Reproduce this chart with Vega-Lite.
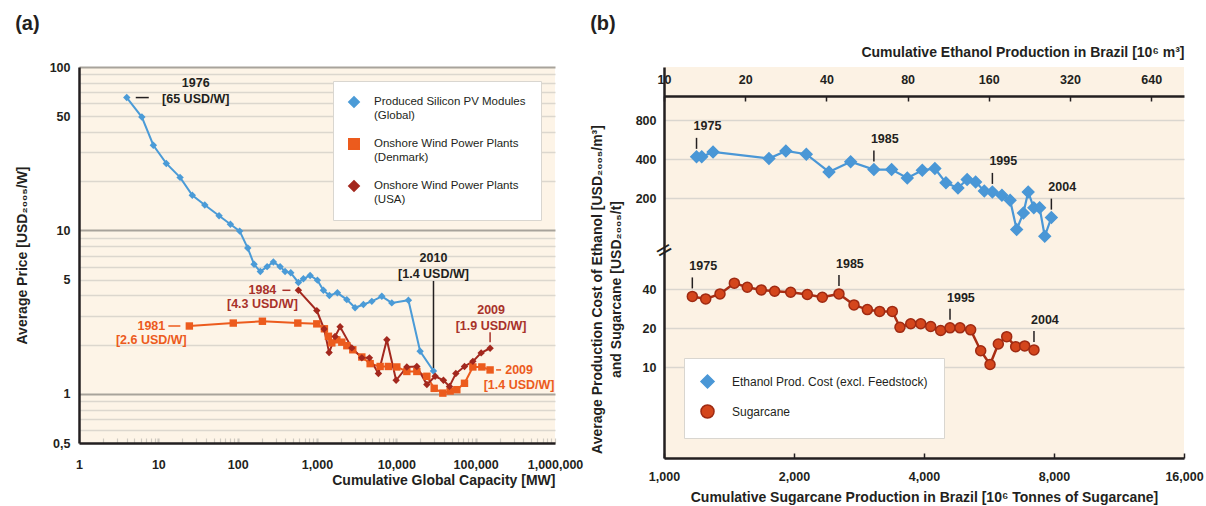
{
  "$schema": "https://vega.github.io/schema/vega-lite/v6.json",
  "background": "white",
  "padding": {"left": 15, "top": 14, "right": 12, "bottom": 2},
  "config": {
    "font": "Liberation Sans Narrow, Liberation Sans, sans-serif",
    "view": {"stroke": null},
    "axis": {
      "labelFont": "Liberation Sans Narrow, Liberation Sans, sans-serif",
      "titleFont": "Liberation Sans Narrow, Liberation Sans, sans-serif",
      "labelColor": "#231F20", "titleColor": "#231F20",
      "labelFontSize": 12.5, "titleFontSize": 14,
      "labelFontWeight": "bold", "titleFontWeight": "bold"
    },
    "legend": {"labelFont": "Liberation Sans Narrow, Liberation Sans, sans-serif", "labelColor": "#231F20"},
    "text": {"font": "Liberation Sans Narrow, Liberation Sans, sans-serif", "fontWeight": "bold", "fontSize": 12.5},
    "title": {"font": "Liberation Sans", "fontSize": 20, "fontWeight": "bold", "color": "#231F20", "anchor": "start", "frame": "bounds"}
  },
  "datasets": {
    "capacity": [
      {"series": "PV", "capacity": 4, "price": 65},
      {"series": "PV", "capacity": 6.2, "price": 49.4},
      {"series": "PV", "capacity": 8.65, "price": 33.2},
      {"series": "PV", "capacity": 12.6, "price": 25.7},
      {"series": "PV", "capacity": 18.8, "price": 21.1},
      {"series": "PV", "capacity": 26.8, "price": 16.4},
      {"series": "PV", "capacity": 38.5, "price": 14.3},
      {"series": "PV", "capacity": 58.3, "price": 12.3},
      {"series": "PV", "capacity": 81, "price": 10.9},
      {"series": "PV", "capacity": 106, "price": 9.9},
      {"series": "PV", "capacity": 134, "price": 7.8},
      {"series": "PV", "capacity": 161, "price": 6.2},
      {"series": "PV", "capacity": 193, "price": 5.6},
      {"series": "PV", "capacity": 235, "price": 6.0},
      {"series": "PV", "capacity": 282, "price": 6.4},
      {"series": "PV", "capacity": 343, "price": 6.0},
      {"series": "PV", "capacity": 396, "price": 5.6},
      {"series": "PV", "capacity": 467, "price": 5.5},
      {"series": "PV", "capacity": 583, "price": 4.8},
      {"series": "PV", "capacity": 674, "price": 5.06},
      {"series": "PV", "capacity": 819, "price": 5.3},
      {"series": "PV", "capacity": 1012, "price": 4.96},
      {"series": "PV", "capacity": 1205, "price": 4.3},
      {"series": "PV", "capacity": 1433, "price": 4.0},
      {"series": "PV", "capacity": 1808, "price": 4.15},
      {"series": "PV", "capacity": 2377, "price": 3.77},
      {"series": "PV", "capacity": 3020, "price": 3.36},
      {"series": "PV", "capacity": 3846, "price": 3.52},
      {"series": "PV", "capacity": 4909, "price": 3.68},
      {"series": "PV", "capacity": 6560, "price": 3.95},
      {"series": "PV", "capacity": 8770, "price": 3.6},
      {"series": "PV", "capacity": 14200, "price": 3.74},
      {"series": "PV", "capacity": 19950, "price": 1.82},
      {"series": "PV", "capacity": 29400, "price": 1.38},
      {"series": "Denmark", "capacity": 24.6, "price": 2.6},
      {"series": "Denmark", "capacity": 88, "price": 2.71},
      {"series": "Denmark", "capacity": 205, "price": 2.78},
      {"series": "Denmark", "capacity": 573, "price": 2.71},
      {"series": "Denmark", "capacity": 994, "price": 2.68},
      {"series": "Denmark", "capacity": 1240, "price": 2.5},
      {"series": "Denmark", "capacity": 1393, "price": 2.25},
      {"series": "Denmark", "capacity": 1537, "price": 2.05},
      {"series": "Denmark", "capacity": 1778, "price": 2.14},
      {"series": "Denmark", "capacity": 2055, "price": 2.07},
      {"series": "Denmark", "capacity": 2377, "price": 1.97},
      {"series": "Denmark", "capacity": 2826, "price": 1.86},
      {"series": "Denmark", "capacity": 3673, "price": 1.68},
      {"series": "Denmark", "capacity": 4677, "price": 1.53},
      {"series": "Denmark", "capacity": 6250, "price": 1.47},
      {"series": "Denmark", "capacity": 7943, "price": 1.47},
      {"series": "Denmark", "capacity": 10140, "price": 1.46},
      {"series": "Denmark", "capacity": 13560, "price": 1.37},
      {"series": "Denmark", "capacity": 18130, "price": 1.37},
      {"series": "Denmark", "capacity": 24260, "price": 1.28},
      {"series": "Denmark", "capacity": 30000, "price": 1.08},
      {"series": "Denmark", "capacity": 38550, "price": 1.01},
      {"series": "Denmark", "capacity": 47660, "price": 1.04},
      {"series": "Denmark", "capacity": 57900, "price": 1.06},
      {"series": "Denmark", "capacity": 72300, "price": 1.16},
      {"series": "Denmark", "capacity": 92200, "price": 1.46},
      {"series": "Denmark", "capacity": 119700, "price": 1.46},
      {"series": "Denmark", "capacity": 152000, "price": 1.4},
      {"series": "USA", "capacity": 583, "price": 4.3},
      {"series": "USA", "capacity": 994, "price": 3.23},
      {"series": "USA", "capacity": 1230, "price": 2.49},
      {"series": "USA", "capacity": 1422, "price": 1.79},
      {"series": "USA", "capacity": 1690, "price": 2.24},
      {"series": "USA", "capacity": 1955, "price": 2.57},
      {"series": "USA", "capacity": 2748, "price": 1.91},
      {"series": "USA", "capacity": 3673, "price": 1.66},
      {"series": "USA", "capacity": 4580, "price": 1.66},
      {"series": "USA", "capacity": 5945, "price": 1.33},
      {"series": "USA", "capacity": 7590, "price": 2.14},
      {"series": "USA", "capacity": 9940, "price": 1.21},
      {"series": "USA", "capacity": 13560, "price": 1.46},
      {"series": "USA", "capacity": 18130, "price": 1.47},
      {"series": "USA", "capacity": 24260, "price": 1.14},
      {"series": "USA", "capacity": 30850, "price": 1.28},
      {"series": "USA", "capacity": 39260, "price": 1.21},
      {"series": "USA", "capacity": 46740, "price": 1.11},
      {"series": "USA", "capacity": 56230, "price": 1.33},
      {"series": "USA", "capacity": 72300, "price": 1.47},
      {"series": "USA", "capacity": 92200, "price": 1.58},
      {"series": "USA", "capacity": 117300, "price": 1.78},
      {"series": "USA", "capacity": 152000, "price": 1.9}
    ],
    "ethanol": [
      {"series": "Ethanol", "production": 13.2, "cost": 417, "label": "1975"},
      {"series": "Ethanol", "production": 13.8, "cost": 417},
      {"series": "Ethanol", "production": 15.2, "cost": 455},
      {"series": "Ethanol", "production": 24.5, "cost": 405},
      {"series": "Ethanol", "production": 28.3, "cost": 463},
      {"series": "Ethanol", "production": 33.7, "cost": 437},
      {"series": "Ethanol", "production": 40.9, "cost": 319},
      {"series": "Ethanol", "production": 49.2, "cost": 382},
      {"series": "Ethanol", "production": 60, "cost": 333, "label": "1985"},
      {"series": "Ethanol", "production": 69.8, "cost": 333},
      {"series": "Ethanol", "production": 79.8, "cost": 287},
      {"series": "Ethanol", "production": 90.7, "cost": 329},
      {"series": "Ethanol", "production": 101, "cost": 339},
      {"series": "Ethanol", "production": 111, "cost": 263},
      {"series": "Ethanol", "production": 123, "cost": 240},
      {"series": "Ethanol", "production": 133, "cost": 279},
      {"series": "Ethanol", "production": 143, "cost": 267},
      {"series": "Ethanol", "production": 154, "cost": 228},
      {"series": "Ethanol", "production": 165, "cost": 224, "label": "1995"},
      {"series": "Ethanol", "production": 179, "cost": 211},
      {"series": "Ethanol", "production": 192, "cost": 193},
      {"series": "Ethanol", "production": 203, "cost": 115},
      {"series": "Ethanol", "production": 215, "cost": 154},
      {"series": "Ethanol", "production": 224, "cost": 224},
      {"series": "Ethanol", "production": 235, "cost": 169},
      {"series": "Ethanol", "production": 247, "cost": 169},
      {"series": "Ethanol", "production": 258, "cost": 102},
      {"series": "Ethanol", "production": 273, "cost": 142, "label": "2004"}
    ],
    "sugarcane": [
      {"series": "Sugarcane", "production": 1163, "cost": 35.1, "label": "1975"},
      {"series": "Sugarcane", "production": 1249, "cost": 33.6},
      {"series": "Sugarcane", "production": 1348, "cost": 36.7},
      {"series": "Sugarcane", "production": 1455, "cost": 44.4},
      {"series": "Sugarcane", "production": 1559, "cost": 41.3},
      {"series": "Sugarcane", "production": 1680, "cost": 39.4},
      {"series": "Sugarcane", "production": 1804, "cost": 38.5},
      {"series": "Sugarcane", "production": 1965, "cost": 37.8},
      {"series": "Sugarcane", "production": 2147, "cost": 36.3},
      {"series": "Sugarcane", "production": 2326, "cost": 34.6},
      {"series": "Sugarcane", "production": 2542, "cost": 36.7, "label": "1985"},
      {"series": "Sugarcane", "production": 2754, "cost": 30.2},
      {"series": "Sugarcane", "production": 2957, "cost": 27.8},
      {"series": "Sugarcane", "production": 3158, "cost": 26.9},
      {"series": "Sugarcane", "production": 3378, "cost": 26.9},
      {"series": "Sugarcane", "production": 3519, "cost": 20.3},
      {"series": "Sugarcane", "production": 3727, "cost": 21.6},
      {"series": "Sugarcane", "production": 3931, "cost": 21.6},
      {"series": "Sugarcane", "production": 4146, "cost": 20.6},
      {"series": "Sugarcane", "production": 4372, "cost": 19.2},
      {"series": "Sugarcane", "production": 4595, "cost": 20.1, "label": "1995"},
      {"series": "Sugarcane", "production": 4846, "cost": 20.1},
      {"series": "Sugarcane", "production": 5130, "cost": 19.4},
      {"series": "Sugarcane", "production": 5412, "cost": 13.4},
      {"series": "Sugarcane", "production": 5688, "cost": 10.5},
      {"series": "Sugarcane", "production": 5945, "cost": 15.1},
      {"series": "Sugarcane", "production": 6217, "cost": 17.2},
      {"series": "Sugarcane", "production": 6521, "cost": 14.4},
      {"series": "Sugarcane", "production": 6843, "cost": 14.6},
      {"series": "Sugarcane", "production": 7190, "cost": 13.6, "label": "2004"}
    ]
  },
  "spacing": 7,
  "resolve": {
    "scale": {"color": "independent", "shape": "independent", "stroke": "independent"},
    "legend": {"color": "independent", "shape": "independent", "stroke": "independent"}
  },
  "hconcat": [
    {
      "title": {"text": "(a)", "offset": 27},
      "width": 476,
      "height": 376,
      "view": {"fill": "#FDF4E7"},
      "data": {"name": "capacity"},
      "encoding": {
        "x": {
          "field": "capacity", "type": "quantitative",
          "scale": {"type": "log", "domain": [1, 1000000], "nice": false},
          "axis": {
            "title": "Cumulative Global Capacity [MW]", "titleAnchor": "end", "titlePadding": 3,
            "values": [1,2,3,4,5,6,7,8,9,10,20,30,40,50,60,70,80,90,100,200,300,400,500,600,700,800,900,1000,2000,3000,4000,5000,6000,7000,8000,9000,10000,20000,30000,40000,50000,60000,70000,80000,90000,100000,200000,300000,400000,500000,600000,700000,800000,900000,1000000],
            "labelExpr": "indexof([1,10,100,1000,10000,100000,1000000], datum.value) >= 0 ? format(datum.value, ',') : ''",
            "labelOverlap": false, "labelFlush": false, "grid": false,
            "domainColor": "#231F20", "domainWidth": 2.5,
            "tickColor": "#CFCAC1",
            "tickWidth": {"condition": {"test": "indexof([10,100,1000,10000,100000], datum.value) >= 0", "value": 2.2}, "value": 1.2},
            "tickSize": -5,
            "labelPadding": 20
          }
        },
        "y": {
          "field": "price", "type": "quantitative",
          "scale": {"type": "log", "domain": [0.5, 100], "nice": false},
          "axis": {
            "title": "Average Price [USD₂₀₀₅/W]", "titlePadding": 20,
            "values": [0.5,0.6,0.7,0.8,0.9,1,2,3,4,5,6,7,8,9,10,20,30,40,50,60,70,80,90,100],
            "labelExpr": "datum.value == 0.5 ? '0,5' : (indexof([1,5,10,50,100], datum.value) >= 0 ? '' + datum.value : '')",
            "labelOverlap": false, "labelFlush": false,
            "grid": true,
            "gridColor": {"condition": {"test": "indexof([1,10,100], datum.value) >= 0", "value": "#A8A39B"}, "value": "#DCD7CE"},
            "gridWidth": {"condition": {"test": "indexof([1,10,100], datum.value) >= 0", "value": 2}, "value": 1.3},
            "ticks": false,
            "domainColor": "#231F20", "domainWidth": 2.5,
            "labelPadding": 9
          }
        },
        "color": {
          "field": "series", "type": "nominal",
          "scale": {"domain": ["PV", "Denmark", "USA"], "range": ["#4B9BD7", "#EC5B1D", "#A3281E"]},
          "legend": {
            "title": null, "orient": "top-right", "offset": 14,
            "fillColor": "#FFFFFF", "strokeColor": "#D9D6D0", "padding": 15,
            "labelExpr": "datum.label == 'PV' ? ['Produced Silicon PV Modules', '(Global)'] : datum.label == 'Denmark' ? ['Onshore Wind Power Plants', '(Denmark)'] : ['Onshore Wind Power Plants', '(USA)']",
            "labelFontSize": 11.5, "labelLimit": 400, "labelOffset": 14, "symbolSize": 110, "rowPadding": 14, "labelBaseline": "middle", "labelFontWeight": "normal"
          }
        }
      },
      "layer": [
        {"mark": {"type": "line", "strokeWidth": 2}},
        {
          "mark": {"type": "point", "filled": true, "opacity": 1, "size": 55},
          "encoding": {
            "shape": {
              "field": "series", "type": "nominal",
              "scale": {"domain": ["PV", "Denmark", "USA"], "range": ["diamond", "square", "diamond"]},
              "legend": {
                "title": null, "orient": "top-right", "offset": 14,
                "fillColor": "#FFFFFF", "strokeColor": "#D9D6D0", "padding": 15,
                "labelExpr": "datum.label == 'PV' ? ['Produced Silicon PV Modules', '(Global)'] : datum.label == 'Denmark' ? ['Onshore Wind Power Plants', '(Denmark)'] : ['Onshore Wind Power Plants', '(USA)']",
                "labelFontSize": 11.5, "labelLimit": 400, "labelOffset": 14, "symbolSize": 110, "rowPadding": 14, "labelBaseline": "middle", "labelFontWeight": "normal"
              }
            }
          }
        },
        {
          "transform": [{"filter": "datum.series == 'PV' && datum.capacity == 4"}],
          "layer": [
            {"mark": {"type": "rule", "xOffset": 9, "x2Offset": 22, "strokeWidth": 1.5}, "encoding": {"x2": {"field": "capacity"}, "color": {"value": "#231F20"}}},
            {"mark": {"type": "text", "text": ["1976", "[65 USD/W]"], "align": "center", "baseline": "middle", "dx": 69, "dy": -15, "lineHeight": 16}, "encoding": {"color": {"value": "#231F20"}}}
          ]
        },
        {
          "transform": [{"filter": "datum.series == 'PV' && datum.capacity == 29400"}],
          "layer": [
            {"mark": {"type": "rule", "yOffset": -3, "y2Offset": -90, "strokeWidth": 1.5}, "encoding": {"y2": {"field": "price"}, "color": {"value": "#231F20"}}},
            {"mark": {"type": "text", "text": ["2010", "[1.4 USD/W]"], "align": "center", "baseline": "middle", "dx": 0, "dy": -113, "lineHeight": 16}, "encoding": {"color": {"value": "#231F20"}}}
          ]
        },
        {
          "transform": [{"filter": "datum.series == 'USA' && datum.capacity == 583"}],
          "layer": [
            {"mark": {"type": "rule", "xOffset": -16, "x2Offset": -8, "strokeWidth": 1.5}, "encoding": {"x2": {"field": "capacity"}, "color": {"value": "#A8322A"}}},
            {"mark": {"type": "text", "text": ["1984", "[4.3 USD/W]"], "align": "center", "baseline": "middle", "dx": -36, "dy": 0, "lineHeight": 14}, "encoding": {"color": {"value": "#A8322A"}}}
          ]
        },
        {
          "transform": [{"filter": "datum.series == 'Denmark' && datum.capacity == 24.6"}],
          "layer": [
            {"mark": {"type": "rule", "xOffset": -21, "x2Offset": -9, "strokeWidth": 1.5}, "encoding": {"x2": {"field": "capacity"}, "color": {"value": "#EC5B1D"}}},
            {"mark": {"type": "text", "text": ["1981", "[2.6 USD/W]"], "align": "center", "baseline": "middle", "dx": -38, "dy": 0, "lineHeight": 14}, "encoding": {"color": {"value": "#EC5B1D"}}}
          ]
        },
        {
          "transform": [{"filter": "datum.series == 'USA' && datum.capacity == 152000"}],
          "layer": [
            {"mark": {"type": "rule", "yOffset": -6, "y2Offset": -16, "strokeWidth": 1.5}, "encoding": {"y2": {"field": "price"}, "color": {"value": "#A8322A"}}},
            {"mark": {"type": "text", "text": ["2009", "[1.9 USD/W]"], "align": "center", "baseline": "middle", "dx": 1, "dy": -38, "lineHeight": 16}, "encoding": {"color": {"value": "#A8322A"}}}
          ]
        },
        {
          "transform": [{"filter": "datum.series == 'Denmark' && datum.capacity == 152000"}],
          "layer": [
            {"mark": {"type": "rule", "xOffset": 6, "x2Offset": 11, "strokeWidth": 1.5}, "encoding": {"x2": {"field": "capacity"}, "color": {"value": "#EC5B1D"}}},
            {"mark": {"type": "text", "text": ["2009", "[1.4 USD/W]"], "align": "center", "baseline": "middle", "dx": 29, "dy": 0, "lineHeight": 15}, "encoding": {"color": {"value": "#EC5B1D"}}}
          ]
        }
      ]
    },
    {
      "title": {"text": "(b)", "offset": 11},
      "width": 520,
      "height": 391,
      "view": {"fill": "#FCF2E4"},
      "resolve": {"scale": {"x": "independent"}, "axis": {"x": "independent"}},
      "layer": [
        {
          "data": {"name": "ethanol"},
          "encoding": {
            "x": {
              "field": "production", "type": "quantitative",
              "scale": {"type": "log", "base": 2, "domain": [10, 847], "nice": false},
              "axis": {
                "orient": "top", "offset": -29, "zindex": 1,
                "title": "Cumulative Ethanol Production in Brazil [10⁶ m³]", "titleAnchor": "end",
                "values": [10, 20, 40, 80, 160, 320, 640], "format": "d", "grid": false,
                "domainColor": "#231F20", "domainWidth": 2.5, "tickColor": "#231F20", "tickSize": -5, "tickWidth": 1.5,
                "labelPadding": 15, "titlePadding": 14, "labelFlush": false
              }
            },
            "y": {
              "field": "cost", "type": "quantitative",
              "scale": {"type": "log", "domain": [2, 2052], "nice": false},
              "axis": {
                "zindex": 0,
                "title": ["Average Production Cost of Ethanol [USD₂₀₀₅/m³]", "and Sugarcane [USD₂₀₀₅/t]"],
                "titleLineHeight": 19, "titlePadding": 12, "titleY": 222,
                "values": [10, 20, 40, 200, 400, 800], "format": "d",
                "grid": true, "gridColor": "#DAD6CF", "gridWidth": 1.5, "ticks": false,
                "domainColor": "#231F20", "domainWidth": 2.5, "labelPadding": 8
              }
            }
          },
          "layer": [
            {"mark": {"type": "line", "color": "#4A97D6", "strokeWidth": 2.2}},
            {
              "mark": {"type": "point", "filled": true, "opacity": 1, "strokeWidth": 1.5},
              "encoding": {
                "color": {"field": "series", "type": "nominal", "scale": {"domain": ["Ethanol", "Sugarcane"], "range": ["#4A97D6", "#D4461C"]},
                  "legend": {"title": null, "orient": "bottom-left", "offset": 20, "fillColor": "#FFFFFF", "strokeColor": "#D9D6D0", "padding": 16,
                    "labelExpr": "datum.label == 'Ethanol' ? 'Ethanol Prod. Cost (excl. Feedstock)' : 'Sugarcane'",
                    "labelFontSize": 12, "labelLimit": 400, "symbolSize": 170, "rowPadding": 9, "labelOffset": 17, "labelFontWeight": "normal"}},
                "shape": {"field": "series", "type": "nominal", "scale": {"domain": ["Ethanol", "Sugarcane"], "range": ["diamond", "circle"]},
                  "legend": {"title": null, "orient": "bottom-left", "offset": 20, "fillColor": "#FFFFFF", "strokeColor": "#D9D6D0", "padding": 16,
                    "labelExpr": "datum.label == 'Ethanol' ? 'Ethanol Prod. Cost (excl. Feedstock)' : 'Sugarcane'",
                    "labelFontSize": 12, "labelLimit": 400, "symbolSize": 170, "rowPadding": 9, "labelOffset": 17, "labelFontWeight": "normal"}},
                "stroke": {"field": "series", "type": "nominal", "scale": {"domain": ["Ethanol", "Sugarcane"], "range": ["#4A97D6", "#9F2A12"]},
                  "legend": {"title": null, "orient": "bottom-left", "offset": 20, "fillColor": "#FFFFFF", "strokeColor": "#D9D6D0", "padding": 16,
                    "labelExpr": "datum.label == 'Ethanol' ? 'Ethanol Prod. Cost (excl. Feedstock)' : 'Sugarcane'",
                    "labelFontSize": 12, "labelLimit": 400, "symbolSize": 170, "rowPadding": 9, "labelOffset": 17, "labelFontWeight": "normal"}},
                "size": {"value": 130}
              }
            },
            {
              "transform": [{"filter": "isValid(datum.label)"}],
              "mark": {"type": "rule", "yOffset": -8, "y2Offset": -19, "color": "#231F20", "strokeWidth": 1.5},
              "encoding": {"y2": {"field": "cost"}}
            },
            {
              "transform": [{"filter": "isValid(datum.label)"}],
              "mark": {"type": "text", "align": "left", "baseline": "middle", "dx": -3, "dy": -31, "color": "#231F20"},
              "encoding": {"text": {"field": "label"}}
            },
            {
              "data": {"values": [{"production": 10, "cost": 80}]},
              "mark": {"type": "text", "text": "=", "angle": 330, "fontSize": 22, "fontWeight": "normal", "font": "DejaVu Sans", "align": "center", "baseline": "middle"},
              "encoding": {"color": {"value": "#231F20"}}
            }
          ]
        },
        {
          "data": {"name": "sugarcane"},
          "encoding": {
            "x": {
              "field": "production", "type": "quantitative",
              "scale": {"type": "log", "base": 2, "domain": [1000, 16000], "nice": false},
              "axis": {
                "orient": "bottom", "title": "Cumulative Sugarcane Production in Brazil [10⁶  Tonnes of Sugarcane]",
                "values": [1000, 2000, 4000, 8000, 16000], "format": ",", "grid": false,
                "domainColor": "#231F20", "domainWidth": 2.5, "tickColor": "#231F20", "tickSize": -5, "tickWidth": 1.5,
                "labelPadding": 17, "titlePadding": 8, "labelFlush": false
              }
            },
            "y": {"field": "cost", "type": "quantitative"}
          },
          "layer": [
            {
              "data": {"values": [{"mask": "above plot"}]},
              "mark": {"type": "rect", "color": "#FFFFFF"},
              "encoding": {"x": {"datum": 960}, "x2": {"datum": 16800}, "y": {"datum": 1226}, "y2": {"datum": 2052}}
            },
            {"mark": {"type": "line", "color": "#A92E14", "strokeWidth": 2.5}},
            {
              "mark": {"type": "point", "filled": true, "opacity": 1, "strokeWidth": 1.5},
              "encoding": {
                "color": {"field": "series", "type": "nominal", "scale": {"domain": ["Ethanol", "Sugarcane"], "range": ["#4A97D6", "#D4461C"]},
                  "legend": {"title": null, "orient": "bottom-left", "offset": 20, "fillColor": "#FFFFFF", "strokeColor": "#D9D6D0", "padding": 16,
                    "labelExpr": "datum.label == 'Ethanol' ? 'Ethanol Prod. Cost (excl. Feedstock)' : 'Sugarcane'",
                    "labelFontSize": 12, "labelLimit": 400, "symbolSize": 170, "rowPadding": 9, "labelOffset": 17, "labelFontWeight": "normal"}},
                "shape": {"field": "series", "type": "nominal", "scale": {"domain": ["Ethanol", "Sugarcane"], "range": ["diamond", "circle"]},
                  "legend": {"title": null, "orient": "bottom-left", "offset": 20, "fillColor": "#FFFFFF", "strokeColor": "#D9D6D0", "padding": 16,
                    "labelExpr": "datum.label == 'Ethanol' ? 'Ethanol Prod. Cost (excl. Feedstock)' : 'Sugarcane'",
                    "labelFontSize": 12, "labelLimit": 400, "symbolSize": 170, "rowPadding": 9, "labelOffset": 17, "labelFontWeight": "normal"}},
                "stroke": {"field": "series", "type": "nominal", "scale": {"domain": ["Ethanol", "Sugarcane"], "range": ["#4A97D6", "#9F2A12"]},
                  "legend": {"title": null, "orient": "bottom-left", "offset": 20, "fillColor": "#FFFFFF", "strokeColor": "#D9D6D0", "padding": 16,
                    "labelExpr": "datum.label == 'Ethanol' ? 'Ethanol Prod. Cost (excl. Feedstock)' : 'Sugarcane'",
                    "labelFontSize": 12, "labelLimit": 400, "symbolSize": 170, "rowPadding": 9, "labelOffset": 17, "labelFontWeight": "normal"}},
                "size": {"value": 100}
              }
            },
            {
              "transform": [{"filter": "isValid(datum.label)"}],
              "mark": {"type": "rule", "yOffset": -8, "y2Offset": -19, "color": "#231F20", "strokeWidth": 1.5},
              "encoding": {"y2": {"field": "cost"}}
            },
            {
              "transform": [{"filter": "isValid(datum.label)"}],
              "mark": {"type": "text", "align": "left", "baseline": "middle", "dx": -3, "dy": -30, "color": "#231F20"},
              "encoding": {"text": {"field": "label"}}
            }
          ]
        }
      ]
    }
  ]
}
